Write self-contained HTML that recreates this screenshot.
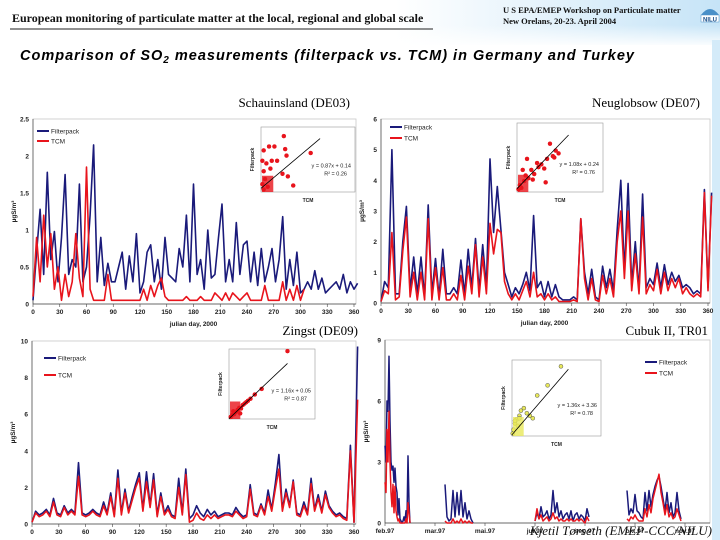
<!DOCTYPE html>
<html><head><meta charset="utf-8">
<style>
html,body{margin:0;padding:0;background:#fff;}
svg{display:block;font-family:"Liberation Sans",sans-serif;}
.serif{font-family:"Liberation Serif",serif;}
</style></head>
<body>
<svg id="s" width="720" height="540" viewBox="0 0 720 540">
<defs>
<linearGradient id="hg" x1="0" y1="0" x2="1" y2="0">
<stop offset="0" stop-color="#ffffff"/><stop offset="0.55" stop-color="#ffffff"/><stop offset="1" stop-color="#c6e4f7"/>
</linearGradient>
<linearGradient id="vg" x1="0" y1="0" x2="0" y2="1">
<stop offset="0" stop-color="#fff" stop-opacity="0"/><stop offset="1" stop-color="#fff" stop-opacity="1"/>
</linearGradient>
</defs>
<rect x="0" y="0" width="720" height="45" fill="url(#hg)"/>
<rect x="0" y="25" width="720" height="22" fill="url(#vg)"/>
<rect x="712" y="40" width="8" height="500" fill="#d4ebf9"/>
<text x="12" y="22" class="serif" font-size="12" font-weight="bold" fill="#111">European monitoring of particulate matter at the local, regional and global scale</text>
<line x1="10" y1="29" x2="433" y2="29" stroke="#222" stroke-width="1"/>
<text x="503" y="13" class="serif" font-size="8.5" font-weight="bold" fill="#111">U S EPA/EMEP Workshop on Particulate matter</text>
<text x="503" y="24" class="serif" font-size="8.5" font-weight="bold" fill="#111">New Orelans, 20-23. April 2004</text>
<g>
<path d="M701 15 Q710 3 719 15 Z" fill="#4a90c8"/>
<rect x="701" y="15" width="18" height="7" fill="#fff" stroke="#4a90c8" stroke-width="0.5"/>
<text x="710" y="21.5" font-size="6" font-weight="bold" text-anchor="middle" fill="#1a4f8a">NILU</text>
</g>
<text x="20" y="60" font-size="14.5" font-weight="bold" font-style="italic" letter-spacing="1.0" fill="#000">Comparison of SO<tspan font-size="10" dy="3">2</tspan><tspan dy="-3"> measurements (filterpack vs. TCM) in Germany and Turkey</tspan></text>

<text x="350" y="107" class="serif" font-size="13" text-anchor="end">Schauinsland (DE03)</text>
<text x="700" y="107" class="serif" font-size="13" text-anchor="end">Neuglobsow (DE07)</text>
<text x="358" y="335" class="serif" font-size="13" text-anchor="end">Zingst (DE09)</text>
<text x="708" y="335" class="serif" font-size="13" text-anchor="end">Cubuk II, TR01</text>
<g id="charts"></g>
<text x="712" y="535" class="serif" font-size="13" font-style="italic" text-anchor="end" fill="#111">Kjetil Tørseth (EMEP-CCC/NILU)</text>
</svg>
<script>
// ---------- data ----------
const dayStep = 4;
const schFp = [0.05,0.7,1.28,0.4,1.78,0.6,0.98,0.3,0.9,1.75,0.4,0.6,0.5,1.62,0.3,0.5,1.2,2.15,0.3,0.9,0.25,0.55,0.3,0.3,0.5,0.7,0.2,0.65,0.3,0.95,0.15,0.3,0.7,0.8,0.3,0.6,0.2,0.9,0.4,0.35,0.3,0.75,0.5,1.2,0.3,1.62,0.4,0.6,0.2,1.0,0.35,0.4,0.9,1.35,0.3,0.6,0.3,1.1,0.4,0.8,0.85,0.3,0.7,0.25,0.75,0.3,0.5,0.75,0.3,0.6,1.18,0.2,0.6,0.25,0.7,0.15,0.2,0.3,0.2,0.45,0.2,0.35,0.15,0.2,0.25,0.3,0.2,0.4,0.15,0.3,0.2,0.28];
const schTcm = [0.1,0.9,0.3,1.2,0.5,0.95,0.2,0.5,0.05,0.4,0.1,0.3,0.95,0.35,0.1,1.85,0.2,0.05,0.05,0.05,0.05,0.4,0.05,0.05,0.05,0.05,0.05,0.05,0.05,0.05,0.05,0.2,0.05,0.25,0.1,0.25,0.35,0.1,0.05,0.05,0.05,0.05,0.05,0.1,0.05,0.05,0.05,0.1,0.05,0.05,0.05,0.15,0.1,0.05,0.15,0.05,0.15,0.1,0.05,0.1,0.15,0.05,0.05,0.05,0.05,0.25,0.05,0.05,0.05,0.05,0.3,0.05,0.2,0.05,0.25,0.05,0.2];
const neuFp = [0.05,0.7,0.5,5.0,0.3,0.3,2.0,3.15,0.4,1.5,0.3,1.5,0.2,3.2,0.3,1.45,0.2,1.75,0.3,0.3,0.5,0.3,1.4,0.3,1.75,0.5,2.1,0.4,1.9,0.5,4.7,2.3,3.8,2.4,1.0,0.6,0.2,0.5,0.3,0.6,1.0,0.4,2.85,0.5,0.7,0.2,0.7,0.2,0.6,0.2,0.1,0.1,0.1,0.2,0.1,2.75,1.0,0.3,1.1,0.2,0.1,1.2,0.5,1.1,0.4,2.4,4.0,1.0,3.9,0.6,2.0,0.4,3.55,0.5,0.8,0.6,1.3,0.5,1.25,0.6,1.0,0.7,0.9,0.5,0.6,0.5,0.3,0.4,0.3,3.7,0.5,3.6];
const neuTcm = [0.05,0.4,0.3,2.3,0.1,0.2,1.7,2.8,0.2,1.0,0.1,1.0,0.1,2.75,0.1,1.15,0.1,1.15,0.1,0.1,0.3,0.1,0.9,0.1,1.2,0.3,1.9,0.2,1.5,0.3,2.6,1.6,2.4,2.3,0.7,0.3,0.1,0.3,0.1,0.4,0.7,0.2,1.0,0.2,0.3,0.1,0.3,0.1,0.2,0.05,0.05,0.05,0.05,0.1,0.05,2.75,0.8,0.1,0.8,0.1,0.05,0.9,0.3,0.8,0.2,2.0,3.0,0.8,3.0,0.4,1.6,0.3,2.8,0.3,0.6,0.4,1.1,0.3,1.0,0.4,0.8,0.5,0.8,0.3,0.5,0.3,0.2,0.3,0.2,3.6,0.4,3.5];
const zinFp = [0.1,0.7,0.5,0.6,0.8,0.5,1.4,0.6,0.5,1.0,0.6,0.8,0.6,3.35,0.6,0.5,0.6,0.8,0.6,0.5,1.2,0.6,1.7,0.5,2.95,0.6,1.9,0.7,1.5,2.2,2.8,0.8,2.85,1.0,2.75,0.5,1.7,0.6,1.0,0.5,0.4,2.5,0.6,3.0,0.3,0.5,1.0,0.6,0.4,0.8,0.5,0.7,0.4,0.5,0.6,0.6,0.5,0.9,0.6,0.4,0.5,2.15,0.6,0.5,1.1,0.6,1.85,0.8,2.2,3.8,0.8,1.9,1.0,2.4,0.6,0.5,1.2,0.6,2.5,0.8,1.6,0.7,1.8,1.0,0.7,0.5,0.6,0.4,0.3,4.3,0.1,9.7];
const zinTcm = [0.1,0.6,0.4,0.5,0.7,0.4,1.2,0.5,0.4,0.9,0.5,0.7,0.5,2.6,0.5,0.4,0.5,0.7,0.5,0.4,1.0,0.5,1.5,0.4,2.5,0.5,1.7,0.6,1.3,2.0,2.5,0.7,2.3,0.9,2.4,0.4,1.5,0.5,0.8,0.4,0.3,2.0,0.5,2.7,0.1,0.2,0.6,0.3,0.2,0.5,0.3,0.5,0.3,0.4,0.5,0.5,0.4,0.7,0.5,0.3,0.4,1.9,0.5,0.4,1.0,0.5,1.5,0.7,1.9,3.0,0.7,1.7,0.9,2.3,0.5,0.4,1.0,0.5,2.2,0.7,1.4,0.6,1.6,0.9,0.6,0.4,0.5,0.3,0.2,4.0,0.1,6.8];
const julianTicks = [0,30,60,90,120,150,180,210,240,270,300,330,360];
const schYTicks = ["0","0.5","1","1.5","2","2.5"];
const neuYTicks = ["0","1","2","3","4","5","6"];
const zinYTicks = ["0","2","4","6","8","10"];
const cubYTicks = ["0","3","6","9"];
const cubStarts = [0,60,150,242];
const cubSteps = [1,2,2,2];
const cubFp = [
 [3.8,3.0,6.0,5.5,8.2,5.0,3.0,2.6,2.8,2.0,2.7,1.8,1.5,0.4,1.2,0.2,0.1,0.0,0.1,0.3,0.1,0.6,0.2,3.3,1.0,0.0],
 [1.9,0.3,0.1,0.2,1.6,0.3,1.5,0.4,1.6,0.3,1.0,0.2,0.6,0.2,0.0],
 [0.1,0.5,0.2,0.8,0.3,0.4,0.6,0.2,0.4,1.6,0.5,1.0,0.3,0.6,0.2,0.4,0.5,0.2,0.6,0.1,0.4,0.5,0.2,0.4,0.3,0.1,0.7,0.3],
 [1.6,0.4,0.7,0.5,1.4,0.6,0.5,0.3,0.2,1.5,0.6,1.6,0.8,1.4,1.8,2.1,2.3,1.8,1.2,0.6,1.5,0.5,1.0,0.3,0.5,1.5,0.6,0.2]];
const cubTcm = [
 [2.0,1.5,4.6,3.0,5.5,3.0,1.5,0.8,1.9,0.5,1.8,0.6,0.3,0.1,0.2,0.0,0.0,0.0,0.0,0.0,0.0,0.2,0.0,1.0,0.5,0.0],
 [0.1,0,0,0,0.2,0,0.1,0,0.2,0,0.1,0,0.1,0,0],
 [0.1,0.7,0.2,0.4,0.1,0.2,0.3,0.1,0.2,0.5,0.2,0.3,0.1,0.2,0.1,0.1,0.2,0.1,0.2,0.1,0.1,0.2,0.1,0.2,0.1,0.0,0.3,0.1],
 [0.2,0.1,0.3,0.2,0.4,0.2,0.1,0.1,0.1,0.7,0.3,0.9,0.5,1.2,1.6,2.0,2.4,1.5,1.0,0.4,0.9,0.3,0.5,0.2,0.3,0.7,0.4,0.1]];
const cubMonths = ["feb.97","mar.97","mai.97","jul.97","sep.97","okt.97","nov.97"];
const cubMonthDays = [0,50,100,150,200,250,300];
const schScX = [0.05,0.1,0.2,0.1,0.3,0.4,0.5,0.35,0.6,0.85,0.9,0.95,0.8,1.0,1.2,1.85,0.1,0.15,0.05,0.25];
const schScY = [0.3,0.8,1.1,1.6,1.75,1.2,1.75,0.9,1.2,2.15,1.65,1.4,0.7,0.6,0.25,1.5,0.1,0.5,1.2,0.2];
const neuScX = [0.1,0.2,0.3,0.5,0.6,0.8,1.0,1.2,1.4,1.5,1.7,1.9,2.1,2.3,2.5,2.6,2.7,2.9,0.4,0.7,1.1,2.0];
const neuScY = [0.2,0.5,0.3,0.8,1.2,1.0,1.6,1.3,2.1,1.8,2.0,1.7,2.4,3.5,2.6,2.5,3.0,2.8,1.6,2.4,0.9,0.7];
const zinScX = [0.2,0.4,0.6,0.8,1.0,1.2,1.4,1.6,1.8,2.0,2.2,2.5,3.0,3.8,6.8,0.5,1.3];
const zinScY = [0.3,0.6,0.7,1.0,1.3,1.6,1.5,2.0,2.2,2.4,2.6,2.9,3.5,4.3,9.7,1.1,0.8];
const cubScX = [0.05,0.1,0.2,0.3,0.4,0.5,0.6,0.8,1.0,1.2,1.4,1.7,2.4,3.3,0.2,0.5];
const cubScY = [0.2,0.5,1.0,1.3,0.8,1.6,2.0,2.2,1.8,1.6,1.4,3.2,4.0,5.5,1.2,1.4];

// ---------- drawing ----------
const NS = "http://www.w3.org/2000/svg";
const root = document.getElementById('charts');
function mk(tag, attrs, parent){ const e=document.createElementNS(NS,tag); for(const k in attrs) e.setAttribute(k,attrs[k]); (parent||root).appendChild(e); return e; }
function txt(parent,x,y,s,size,anchor,extra){ const t=mk('text',Object.assign({x:x,y:y,'font-size':size,'text-anchor':anchor||'start',fill:'#222','font-weight':'bold'},extra||{}),parent); t.textContent=s; return t; }

function chart(o){
  const g = mk('g',{});
  
  
  const sx = d => o.x0 + d/o.xmax*(o.x1-o.x0);
  const sy = v => o.y1 - v/o.ymax*(o.y1-o.y0);
  const frame = mk('rect',{x:o.x0,y:o.y0,width:o.fx1-o.x0,height:o.y1-o.y0,fill:'#fff',stroke:'#c8c8c8','stroke-width':0.8},g);
  
  
  o.yticks.forEach(lbl=>{
    const v=parseFloat(lbl);
    const t=txt(g,o.x0-4,sy(v)+2.5,lbl,6.5,'end');
    
    
  });
  o.xlabels.forEach((lbl,i)=>{
    const x=sx(o.xvals[i]);
    mk('line',{x1:x,y1:o.y1,x2:x,y2:o.y1+3,stroke:'#444','stroke-width':0.6},g);
    const t=txt(g,x,o.y1+10,lbl,6.5,'middle');
    
    
  });
  mk('line',{x1:o.x0,y1:o.y1,x2:o.fx1,y2:o.y1,stroke:'#444','stroke-width':0.7},g);
  mk('line',{x1:o.x0,y1:o.y0,x2:o.x0,y2:o.y1,stroke:'#444','stroke-width':0.7},g);
  const yt=txt(g,0,0,'µgS/m³',6.5,'middle',{transform:`translate(${o.x0-17},${(o.y0+o.y1)/2}) rotate(-90)`});
  
  
  if(o.xtitle){
    const xt=txt(g,(o.x0+o.x1)/2,o.y1+22,o.xtitle,6.5,'middle');
    
    
  }
  o.series.forEach(s=>{
    let d='';
    s.segs.forEach(seg=>{
      seg.vals.forEach((v,i)=>{ d += (i?'L':'M') + sx(seg.start+i*seg.step).toFixed(1)+' '+sy(v).toFixed(1)+' '; });
    });
    const p=mk('path',{d:d,fill:'none',stroke:s.color,'stroke-width':s.w,'stroke-linejoin':'round'},g);
    
    
  });
  const lg=mk('g',{},g);
  
  
  [['Filterpack','#1a1a7a'],['TCM','#e8141c']].forEach((e,i)=>{
    const y=o.lg[1]+i*o.lg[2];
    mk('line',{x1:o.lg[0],y1:y,x2:o.lg[0]+12,y2:y,stroke:e[1],'stroke-width':2},lg);
    const t=txt(lg,o.lg[0]+14,y+2.5,e[0],6.5,'start',{'font-weight':'normal'});
    
    
  });
  const ins=o.inset;
  const ig=mk('g',{},g);
  
  
  mk('rect',{x:ins.x0,y:ins.y0,width:ins.x1-ins.x0,height:ins.y1-ins.y0,fill:'#fff',stroke:'#999','stroke-width':0.6},ig);
  const ix=v=>ins.x0+v/ins.max*(ins.x1-ins.x0), iy=v=>ins.y1-v/ins.ymax*(ins.y1-ins.y0);
  ins.xs.forEach((xv,i)=>{
    const c=mk('circle',{cx:ix(xv),cy:iy(ins.ys[i]),r:2,fill:ins.fill,stroke:ins.stroke,'stroke-width':0.5},ig);
    
    
  });
  mk('rect',{x:ins.x0+1,y:iy(ins.ymax*0.25),width:(ins.x1-ins.x0)*0.12,height:iy(0)-iy(ins.ymax*0.25),fill:ins.fill,opacity:0.8},ig);
  mk('line',{x1:ix(0),y1:iy(ins.b),x2:ix(ins.lx),y2:iy(ins.b+ins.a*ins.lx),stroke:'#000','stroke-width':0.8},ig);
  const e1=txt(ig,ins.x1-4,ins.y0+(ins.y1-ins.y0)*0.62,ins.eq,5.5,'end',{'font-weight':'normal'});
  
  
  const e2=txt(ig,ins.x1-8,ins.y0+(ins.y1-ins.y0)*0.62+8,ins.r2,5.5,'end',{'font-weight':'normal'});
  
  
  const it=txt(ig,(ins.x0+ins.x1)/2,ins.y1+10,'TCM',5,'middle');
  
  
  const iyt=txt(ig,0,0,'Filterpack',5,'middle',{transform:`translate(${ins.x0-7},${(ins.y0+ins.y1)/2}) rotate(-90)`});
  
  
}

const julLbl = julianTicks.map(String);
chart({name:'chart-schauinsland',x0:33,x1:354,fx1:356,y0:119,y1:304,xmax:360,ymax:2.5,yticks:schYTicks,
  xlabels:julLbl,xvals:julianTicks,xtitle:'julian day, 2000',lg:[37,131,10],
  series:[{name:'series-filterpack',color:'#1a1a7a',w:1.6,segs:[{start:0,step:dayStep,vals:schFp}]},
          {name:'series-tcm',color:'#e8141c',w:1.6,segs:[{start:0,step:dayStep,vals:schTcm}]}],
  inset:{x0:261,x1:355,y0:127,y1:192,max:3.5,ymax:2.5,xs:schScX,ys:schScY,fill:'#e8141c',stroke:'#e8141c',a:0.87,b:0.14,lx:2.2,eq:'y = 0.87x + 0.14',r2:'R² = 0.26'}});
chart({name:'chart-neuglobsow',x0:381,x1:708,fx1:710,y0:119,y1:303,xmax:360,ymax:6,yticks:neuYTicks,
  xlabels:julLbl,xvals:julianTicks,xtitle:'julian day, 2000',lg:[390,127,11],
  series:[{name:'series-filterpack',color:'#1a1a7a',w:1.6,segs:[{start:0,step:dayStep,vals:neuFp}]},
          {name:'series-tcm',color:'#e8141c',w:1.6,segs:[{start:0,step:dayStep,vals:neuTcm}]}],
  inset:{x0:517,x1:603,y0:123,y1:192,max:6,ymax:5,xs:neuScX,ys:neuScY,fill:'#e8141c',stroke:'#e8141c',a:1.08,b:0.24,lx:3.6,eq:'y = 1.08x + 0.24',r2:'R² = 0.76'}});
chart({name:'chart-zingst',x0:32,x1:354,fx1:356,y0:341,y1:524,xmax:360,ymax:10,yticks:zinYTicks,
  xlabels:julLbl,xvals:julianTicks,xtitle:null,lg:[44,358,17],
  series:[{name:'series-filterpack',color:'#1a1a7a',w:1.6,segs:[{start:0,step:dayStep,vals:zinFp}]},
          {name:'series-tcm',color:'#e8141c',w:1.6,segs:[{start:0,step:dayStep,vals:zinTcm}]}],
  inset:{x0:229,x1:315,y0:349,y1:419,max:10,ymax:10,xs:zinScX,ys:zinScY,fill:'#e8141c',stroke:'#e8141c',a:1.16,b:0.05,lx:6.8,eq:'y = 1.16x + 0.05',r2:'R² = 0.87'}});
chart({name:'chart-cubuk',x0:385,x1:710,fx1:710,y0:340,y1:523,xmax:325,ymax:9,yticks:cubYTicks,
  xlabels:cubMonths,xvals:cubMonthDays,xtitle:null,lg:[645,362,11],
  series:[{name:'series-filterpack',color:'#1a1a7a',w:1.5,segs:cubFp.map((v,i)=>({start:cubStarts[i],step:cubSteps[i],vals:v}))},
          {name:'series-tcm',color:'#e8141c',w:1.5,segs:cubTcm.map((v,i)=>({start:cubStarts[i],step:cubSteps[i],vals:v}))}],
  inset:{x0:512,x1:601,y0:360,y1:436,max:6,ymax:6,xs:cubScX,ys:cubScY,fill:'#e8e85a',stroke:'#555',a:1.36,b:0.1,lx:3.8,eq:'y = 1.36x + 3.36',r2:'R² = 0.78'}});
</script>
</body></html>
